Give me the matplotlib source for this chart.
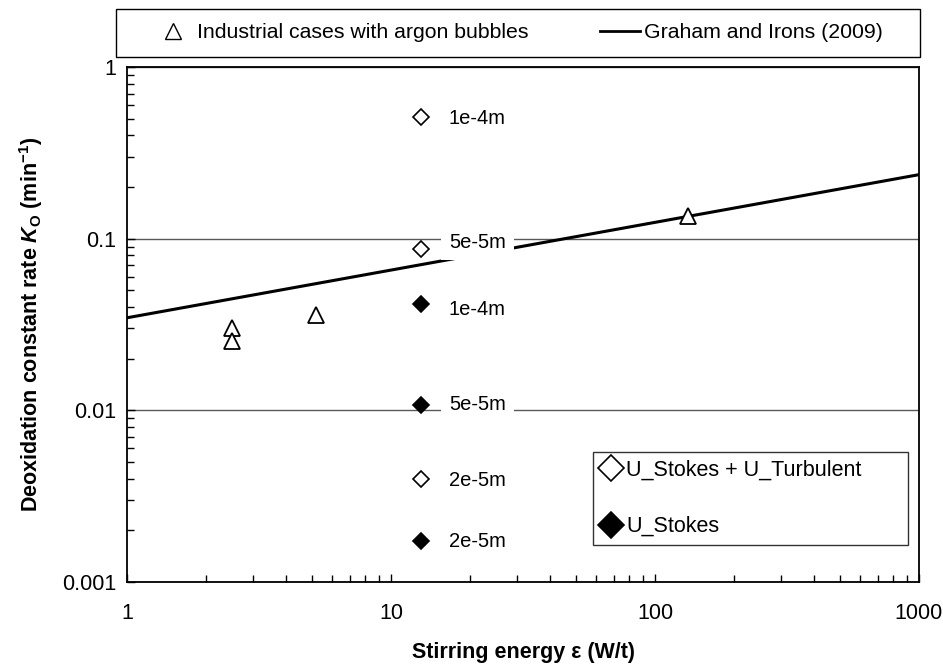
import numpy as np
import matplotlib
matplotlib.use('Agg')
import matplotlib.pyplot as plt
from matplotlib.lines import Line2D
from matplotlib.patches import Rectangle
from matplotlib.ticker import LogLocator, NullFormatter, FixedLocator, FixedFormatter

plt.rcParams['font.family'] = ['Liberation Sans', 'DejaVu Sans']
plt.rcParams['mathtext.fontset'] = 'custom'
plt.rcParams['mathtext.rm'] = 'Liberation Sans:bold'
plt.rcParams['mathtext.it'] = 'Liberation Sans:italic:bold'
plt.rcParams['mathtext.bf'] = 'Liberation Sans:bold'

# industrial cases (triangles)
eps_ind = [2.5, 2.5, 5.2, 133]
k_ind = [0.030, 0.0255, 0.0357, 0.136]

# Graham and Irons (2009) correlation, end points
eps_gi = [1, 1000]
k_gi = [0.0346, 0.236]

# model results at eps = 13 W/t
eps_model = 13
k_turb = [0.51, 0.087, 0.0040]      # U_Stokes + U_Turbulent
k_stokes = [0.0414, 0.0108, 0.00173]  # U_Stokes
size_turb = ['1e-4m', '5e-5m', '2e-5m']
size_stokes = ['1e-4m', '5e-5m', '2e-5m']

x_ticks = [1, 10, 100, 1000]
x_ticklabels = ['1', '10', '100', '1000']
y_ticks = [0.001, 0.01, 0.1, 1]
y_ticklabels = ['0.001', '0.01', '0.1', '1']

W, H = 943, 665
fig = plt.figure(figsize=(W / 100, H / 100), dpi=100)
ax = fig.add_axes([127 / W, 1 - 582 / H, 792 / W, 515 / H])

ax.set_xscale('log')
ax.set_yscale('log')
ax.set_xlim(1, 1000)
ax.set_ylim(0.001, 1)

ax.yaxis.grid(True, which='major', color='0.35', lw=1.0, zorder=0)
ax.set_axisbelow(True)

ax.plot(eps_gi, k_gi, color='black', lw=2.2, zorder=2)
ax.plot(eps_ind, k_ind, ls='none', marker='^', ms=12, mfc='white', mec='black', mew=1.3, zorder=3)
ax.plot([eps_model] * len(k_turb), k_turb, ls='none', marker='D', ms=8.5, mfc='white', mec='black', mew=1.2, zorder=3)
ax.plot([eps_model] * len(k_stokes), k_stokes, ls='none', marker='D', ms=8.5, mfc='black', mec='black', mew=1.2, zorder=3)

# labels next to the diamonds (vertical nudge in points)
dy_turb = [-1, 5, -1]
dy_stokes = [-4, 0, 0]
box = dict(boxstyle='square,pad=0.4', fc='white', ec='none')
for k, s, dy in zip(k_turb, size_turb, dy_turb):
    ax.annotate(s, xy=(eps_model, k), xytext=(20, dy), textcoords='offset points',
                va='center', ha='left', fontsize=14.5, bbox=box, zorder=4)
for k, s, dy in zip(k_stokes, size_stokes, dy_stokes):
    ax.annotate(s, xy=(eps_model, k), xytext=(20, dy), textcoords='offset points',
                va='center', ha='left', fontsize=14.5, bbox=box, zorder=4)

ax.xaxis.set_major_locator(FixedLocator(x_ticks))
ax.xaxis.set_major_formatter(FixedFormatter(x_ticklabels))
ax.yaxis.set_major_locator(FixedLocator(y_ticks))
ax.yaxis.set_major_formatter(FixedFormatter(y_ticklabels))
ax.xaxis.set_minor_locator(LogLocator(base=10, subs=np.arange(2, 10)))
ax.yaxis.set_minor_locator(LogLocator(base=10, subs=np.arange(2, 10)))
ax.xaxis.set_minor_formatter(NullFormatter())
ax.yaxis.set_minor_formatter(NullFormatter())
ax.tick_params(which='both', direction='in', top=False, right=False, labelsize=15.5)
ax.tick_params(which='major', length=6, width=1)
ax.tick_params(which='minor', length=5, width=1)
ax.tick_params(axis='x', pad=15)
ax.tick_params(axis='y', pad=8)
for sp in ax.spines.values():
    sp.set_linewidth(1.3)

ax.set_xlabel('Stirring energy ε (W/t)', fontsize=15.5, fontweight='bold', labelpad=13)
ax.set_ylabel(r'Deoxidation constant rate $K_{\mathrm{O}}$ (min$^{-1}$)', fontsize=15.5,
              fontweight='bold', labelpad=12)

# top legend: box drawn separately, legend without frame inside it
fig.patches.append(Rectangle((116 / W, 1 - 57 / H), 804 / W, 48 / H, transform=fig.transFigure,
                             fill=False, ec='black', lw=1.0))
h_top = [Line2D([], [], ls='none', marker='^', ms=11, mfc='white', mec='black', mew=1.0),
         Line2D([], [], color='black', lw=2)]
fig.legend(h_top, ['Industrial cases with argon bubbles', 'Graham and Irons (2009)'],
           loc='center left', bbox_to_anchor=(153 / W, 1 - 33 / H), ncol=2, fontsize=15.3,
           frameon=False, borderpad=0, borderaxespad=0, handlelength=1.88,
           handletextpad=0.19, columnspacing=3.35)

# model legend
h_mod = [Line2D([], [], ls='none', marker='D', ms=13, mfc='white', mec='black', mew=1.2),
         Line2D([], [], ls='none', marker='D', ms=13, mfc='black', mec='black', mew=1.2)]
leg_mod = ax.legend(h_mod, ['U_Stokes + U_Turbulent', 'U_Stokes'],
                    loc='upper left', bbox_to_anchor=(593 / W, 1 - 452 / H, 315 / W, 0.0),
                    bbox_transform=fig.transFigure, mode='expand', fontsize=15.5,
                    frameon=True, fancybox=False, edgecolor='black', labelspacing=1.65,
                    handlelength=1.0, handletextpad=0.2, borderpad=0.35, borderaxespad=0)
leg_mod.get_frame().set_linewidth(1.0)

fig.savefig('out.png', dpi=100)
